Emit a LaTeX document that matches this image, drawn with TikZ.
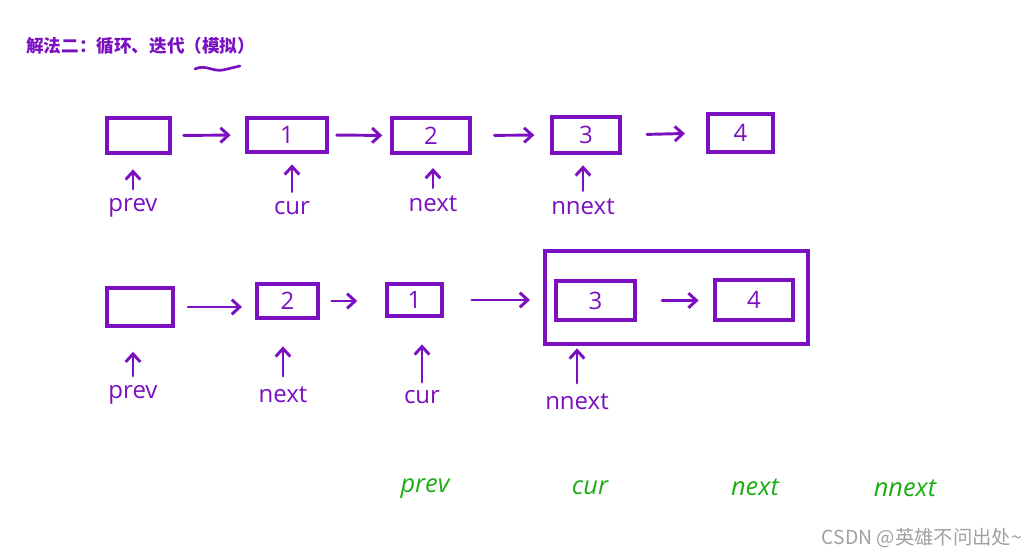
\documentclass[tikz,border=0pt]{standalone}
\usepackage{fontspec}
\setmainfont{Open Sans}
\newfontfamily\cjk{Noto Sans CJK SC}
\usetikzlibrary{arrows.meta,fit}
\definecolor{pen}{RGB}{122,16,192}
\definecolor{gpen}{RGB}{30,172,20}
\definecolor{wm}{RGB}{160,160,160}
\begin{document}
\begin{tikzpicture}[x=0.75pt,y=-0.75pt,
  box/.style={draw=pen,line width=2.6pt,inner sep=0pt,rectangle},
  num/.style={text=pen,font=\fontsize{18pt}{18pt}\selectfont},
  lab/.style={text=pen,font=\fontsize{18pt}{18pt}\selectfont,inner sep=0pt},
  glab/.style={text=gpen,font=\fontsize{19pt}{19pt}\selectfont\itshape,inner sep=0pt},
  arr/.style={draw=pen,line width=2.2pt,line cap=round,-{Straight Barb[length=6pt,width=11pt,line width=2.2pt]}}
]
\useasboundingbox (0,0) rectangle (1029,555);
% title
\node[anchor=west,text=pen,font=\cjk\bfseries\fontsize{13.2pt}{13.2pt}\selectfont,inner sep=0pt] (title) at (26,46) {解法二：循环、迭代（模拟）};
\draw[pen,line width=2pt,line cap=round] (195,69) .. controls (205,64) and (213,72) .. (223,70) .. controls (232,68) .. (240,66);

% row 1
\node[box,fit={(107,118) (170,153)}] (a0) {};
\node[box,fit={(247,118) (327,152)}] (a1) {};
\node[box,fit={(392,118) (470,153)}] (a2) {};
\node[box,fit={(552,117) (620,153)}] (a3) {};
\node[box,fit={(708,114) (773,152)}] (a4) {};
\node[num] (n1) at (a1) {1};
\node[num] (n2) at (a2) {2};
\node[num] (n3) at (a3) {3};
\node[num] (n4) at (a4) {4};
\draw[arr,shorten <=9pt,shorten >=11pt] (a0.east) -- (a1.west);
\draw[arr,shorten <=6pt,shorten >=6pt] (a1.east) -- (a2.west);
\draw[arr,shorten <=17pt,shorten >=12pt] (a2.east) -- (a3.west);
\draw[arr,shorten <=19pt,shorten >=16pt] (a3.east) -- (a4.west);

\node[lab] (p1) at (133,208) {prev};
\node[lab] (c1) at (292,208) {cur};
\node[lab] (x1) at (433,204) {next};
\node[lab] (nn1) at (583,207) {nnext};
\draw[arr,shorten <=7pt,shorten >=11pt] (p1.north) -- (p1.north |- a0.south);
\draw[arr,shorten <=7pt,shorten >=8pt] (c1.north) -- (c1.north |- a1.south);
\draw[arr,shorten <=6pt,shorten >=10pt] (x1.north) -- (x1.north |- a2.south);
\draw[arr,shorten <=6pt,shorten >=8pt] (nn1.north) -- (nn1.north |- a3.south);

% row 2
\node[box,fit={(107,288) (173,326)}] (b0) {};
\node[box,fit={(257,284) (318,318)}] (b2) {};
\node[box,fit={(387,284) (442,316)}] (b1) {};
\node[box,fit={(556,281) (635,320)}] (b3) {};
\node[box,fit={(715,280) (793,320)}] (b4) {};
\node[box,fit={(545,251) (808,344)}] (grp) {};
\node[num] (m2) at (b2) {2};
\node[num] (m1) at (b1) {1};
\node[num] (m3) at (b3) {3};
\node[num] (m4) at (b4) {4};
\draw[arr,shorten <=10pt,shorten >=10pt] (b0.east) -- (b0.east -| b2.west);
\draw[arr,shorten <=9pt,shorten >=21pt] (b2.east) -- (b2.east -| b1.west);
\draw[arr,shorten <=21pt,shorten >=10pt] (b1.east) -- (b1.east -| grp.west);
\draw[arr,shorten <=19pt,shorten >=11pt] (b3.east) -- (b3.east -| b4.west);

\node[lab] (p2) at (133,395) {prev};
\node[lab] (x2) at (283,395) {next};
\node[lab] (c2) at (422,397) {cur};
\node[lab] (nn2) at (577,402) {nnext};
\draw[arr,shorten <=7pt,shorten >=18pt] (p2.north) -- (p2.north |- b0.south);
\draw[arr,shorten <=8pt,shorten >=20pt] (x2.north) -- (x2.north |- b2.south);
\draw[arr,shorten <=6pt,shorten >=20pt] (c2.north) -- (c2.north |- b1.south);
\draw[arr,shorten <=8pt,shorten >=2pt] (nn2.north) -- (nn2.north |- grp.south);

% green labels
\node[glab] (gp) at (425,489) {prev};
\node[glab] (gc) at (590,488) {cur};
\node[glab] (gx) at (755,487) {next};
\node[glab] (gn) at (905,488) {nnext};

% watermark
\node[anchor=east,text=wm,font=\cjk\fontsize{14.5pt}{14.5pt}\selectfont,inner sep=0pt] (wmk) at (1022,538) {CSDN @英雄不问出处\textasciitilde};
\end{tikzpicture}
\end{document}
